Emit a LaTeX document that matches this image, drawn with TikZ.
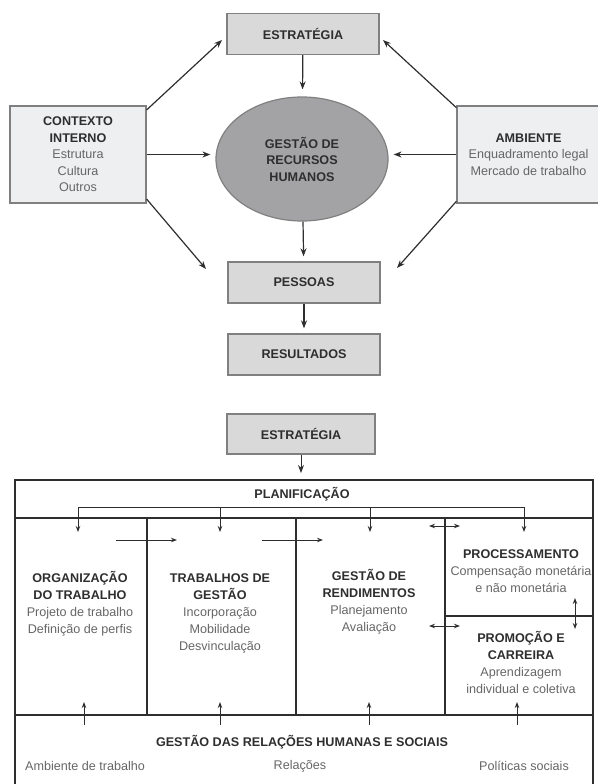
\documentclass[tikz,border=0pt]{standalone}
\usepackage{fontspec}
\setmainfont{Liberation Sans}
\usetikzlibrary{shapes.geometric, arrows.meta}
\definecolor{boxfill}{HTML}{D9D9D9}
\definecolor{sidefill}{HTML}{EEEFF1}
\definecolor{ellfill}{HTML}{A3A3A5}
\definecolor{edgegray}{HTML}{808080}
\definecolor{headgray}{HTML}{2E2E2E}
\definecolor{bodygray}{HTML}{666666}
\definecolor{framegray}{HTML}{2E2E2E}
\newcommand{\hd}[1]{\textcolor{headgray}{\bfseries #1}}
\tikzset{
  mainbox/.style={
    rectangle, draw=edgegray, fill=boxfill, line width=1.3pt,
    minimum width=152pt, minimum height=41pt, inner sep=0pt,
    font=\fontsize{12.6}{16.5}\selectfont\bfseries, text=headgray
  },
  sidebox/.style={
    rectangle, draw=edgegray, fill=sidefill, line width=1.3pt,
    minimum height=97pt, inner sep=0pt, align=center,
    font=\fontsize{12.6}{16.5}\selectfont, text=bodygray
  },
  hrmnode/.style={
    ellipse, draw=edgegray, fill=ellfill, line width=1.2pt,
    minimum width=172pt, minimum height=124pt, inner sep=0pt,
    align=center, font=\fontsize{12.6}{16.5}\selectfont\bfseries, text=headgray
  },
  cell/.style={
    rectangle, draw=framegray, line width=1.7pt, inner sep=0pt,
    anchor=north west
  },
  celltext/.style={
    align=center, inner sep=0pt,
    font=\fontsize{12.6}{17}\selectfont, text=bodygray
  },
  bigarrow/.style={-{Stealth[length=8pt, width=6pt]}, line width=1.2pt, headgray},
  smallarrow/.style={-{Stealth[length=6pt, width=4.5pt]}, line width=1pt, headgray},
  twoarrow/.style={{Stealth[length=6pt, width=4.5pt]}-{Stealth[length=6pt, width=4.5pt]}, line width=1pt, headgray}
}

\begin{document}
\begin{tikzpicture}[x=1pt, y=-1pt]
  \useasboundingbox (0,0) rectangle (597,784);

  % upper diagram
  \node[mainbox] (estr) at (303,34) {ESTRATÉGIA};
  \node[hrmnode] (gest) at (302,159) {GESTÃO DE\\RECURSOS\\HUMANOS};
  \node[mainbox] (pess) at (304,282.5) {PESSOAS};
  \node[mainbox] (resu) at (304,354.5) {RESULTADOS};
  \node[sidebox, minimum width=136pt] (ctx) at (78,154.5)
    {\hd{CONTEXTO}\\\hd{INTERNO}\\Estrutura\\Cultura\\Outros};
  \node[sidebox, minimum width=143pt] (amb) at (528.5,154.5)
    {\hd{AMBIENTE}\\Enquadramento legal\\Mercado de trabalho};

  \coordinate (ctxup) at (222,40);
  \coordinate (ctxdown) at (206,269);
  \coordinate (ambup) at (383,40);
  \coordinate (ambdown) at (397,268);

  \draw[bigarrow, shorten >=7pt] (estr) -- (gest);
  \draw[bigarrow, shorten >=5pt] (gest) -- (pess);
  \draw[bigarrow, shorten >=5pt] (pess) -- (resu);
  \draw[bigarrow] (ctx.33) -- (ctxup);
  \draw[bigarrow] (ctx.-33) -- (ctxdown);
  \draw[bigarrow, shorten >=5pt] (ctx.east) -- (ctx.east -| gest.west);
  \draw[bigarrow] (amb.147) -- (ambup);
  \draw[bigarrow] (amb.213) -- (ambdown);
  \draw[bigarrow, shorten >=5pt] (amb.west) -- (amb.west -| gest.east);

  % lower diagram
  \node[mainbox, minimum width=148pt, minimum height=40pt] (estr2) at (301,434) {ESTRATÉGIA};

  \node[cell, minimum width=578pt, minimum height=38pt] (plan) at (14,479) {};
  \node[cell, minimum width=132pt, minimum height=197pt] (orgt) at (14,517) {};
  \node[cell, minimum width=149pt, minimum height=197pt] (trab) at (146,517) {};
  \node[cell, minimum width=149pt, minimum height=197pt] (rend) at (295,517) {};
  \node[cell, minimum width=148pt, minimum height=98pt] (proc) at (444,517) {};
  \node[cell, minimum width=148pt, minimum height=99pt] (prom) at (444,615) {};
  \node[cell, minimum width=578pt, minimum height=100pt] (rela) at (14,714) {};

  \node[celltext] (plantxt) at (302,494) {\hd{PLANIFICAÇÃO}};
  \node[celltext] (orgtxt) at (80,604)
    {\hd{ORGANIZAÇÃO}\\\hd{DO TRABALHO}\\Projeto de trabalho\\Definição de perfis};
  \node[celltext] (trabtxt) at (220,613)
    {\hd{TRABALHOS DE}\\\hd{GESTÃO}\\Incorporação\\Mobilidade\\Desvinculação};
  \node[celltext] (rendtxt) at (369,602)
    {\hd{GESTÃO DE}\\\hd{RENDIMENTOS}\\Planejamento\\Avaliação};
  \node[celltext] (proctxt) at (521,571)
    {\hd{PROCESSAMENTO}\\Compensação monetária\\e não monetária};
  \node[celltext] (promtxt) at (521,662)
    {\hd{PROMOÇÃO E}\\\hd{CARREIRA}\\Aprendizagem\\individual e coletiva};
  \node[celltext] (relatxt) at (302,742) {\hd{GESTÃO DAS RELAÇÕES HUMANAS E SOCIAIS}};
  \node[celltext] (ambtrab) at (85,766) {Ambiente de trabalho};
  \node[celltext] (relac) at (300,766) {Relações};
  \node[celltext] (polsoc) at (524,766) {Políticas sociais};

  \draw[bigarrow, line width=1pt, shorten >=6pt] (estr2.south) -- (estr2.south |- plan.north);

  % planning feeds every block
  \coordinate (d1) at (78,507);
  \coordinate (d2) at (220,507);
  \coordinate (d3) at (370,507);
  \coordinate (d4) at (524,507);
  \coordinate (t1) at (78,532);
  \coordinate (t2) at (220,532);
  \coordinate (t3) at (370,532);
  \coordinate (t4) at (524,532);
  \draw[line width=1pt, headgray] (d1) -- (d4);
  \draw[smallarrow] (d1) -- (t1);
  \draw[smallarrow] (d2) -- (t2);
  \draw[smallarrow] (d3) -- (t3);
  \draw[smallarrow] (d4) -- (t4);

  % flow between blocks
  \coordinate (f1) at (116,540);
  \coordinate (f2) at (177,540);
  \coordinate (f3) at (262,540);
  \coordinate (f4) at (323,540);
  \draw[smallarrow] (f1) -- (f2);
  \draw[smallarrow] (f3) -- (f4);
  \coordinate (b1) at (429,526);
  \coordinate (b2) at (460,526);
  \coordinate (b3) at (429,626);
  \coordinate (b4) at (460,626);
  \coordinate (v1) at (575,598);
  \coordinate (v2) at (575,629);
  \draw[twoarrow] (b1) -- (b2);
  \draw[twoarrow] (b3) -- (b4);
  \draw[twoarrow] (v1) -- (v2);

  % relations support every block
  \coordinate (u1) at (84,725);
  \coordinate (u2) at (220,725);
  \coordinate (u3) at (369,725);
  \coordinate (u4) at (517,725);
  \coordinate (w1) at (84,702);
  \coordinate (w2) at (220,702);
  \coordinate (w3) at (369,702);
  \coordinate (w4) at (517,702);
  \draw[smallarrow] (u1) -- (w1);
  \draw[smallarrow] (u2) -- (w2);
  \draw[smallarrow] (u3) -- (w3);
  \draw[smallarrow] (u4) -- (w4);
\end{tikzpicture}
\end{document}
